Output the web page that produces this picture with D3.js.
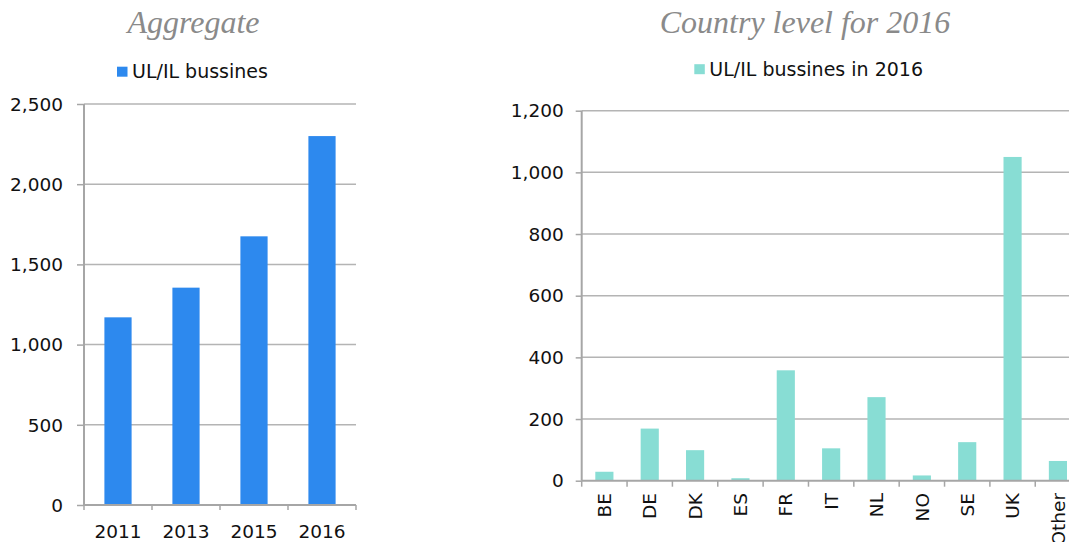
<!DOCTYPE html>
<html>
<head>
<meta charset="utf-8">
<script src="https://cdn.jsdelivr.net/npm/d3@7"></script>
<style>
  html, body { margin: 0; padding: 0; background: #fff; }
  svg { display: block; }
</style>
</head>
<body>
<svg id="chart" width="1069" height="542"></svg>
<script>
// ---- Data ----
const aggYears = ["2011", "2013", "2015", "2016"];
const aggValues = [1170, 1355, 1675, 2300];
const aggTicks = [0, 500, 1000, 1500, 2000, 2500];
const aggTitle = "Aggregate";
const aggLegend = "UL/IL bussines";

const countries = ["BE", "DE", "DK", "ES", "FR", "IT", "NL", "NO", "SE", "UK", "Other"];
const countryValues = [29, 169, 99, 8, 358, 105, 271, 17, 125, 1050, 64];
const countryTicks = [0, 200, 400, 600, 800, 1000, 1200];
const countryTitle = "Country level for 2016";
const countryLegend = "UL/IL bussines in 2016";

// ---- Styles ----
const FONT = "'DejaVu Sans', Verdana, sans-serif";
const TITLE_FONT = "'Liberation Serif', 'Times New Roman', serif";
const gridColor = "#b4b4b4";
const axisColor = "#a6a6a6";
const fmt = d3.format(",");

const svg = d3.select("#chart");

function drawPanel(opts) {
  const g = svg.append("g");
  const x = d3.scaleBand().domain(opts.cats).range(opts.xRange)
    .paddingInner(0.6).paddingOuter(0.3);
  const y = d3.scaleLinear().domain(opts.yDomain).range(opts.yRange);
  const [x0, x1] = opts.gridRange;

  // gridlines
  g.append("g").selectAll("line").data(opts.ticks.filter(t => t !== 0)).join("line")
    .attr("x1", x0).attr("x2", x1)
    .attr("y1", d => y(d)).attr("y2", d => y(d))
    .attr("stroke", gridColor).attr("stroke-width", 1.5);

  // bars
  g.append("g").selectAll("rect").data(opts.cats).join("rect")
    .attr("x", d => x(d))
    .attr("width", x.bandwidth())
    .attr("y", (d, i) => y(opts.values[i]))
    .attr("height", (d, i) => y(0) - y(opts.values[i]))
    .attr("fill", opts.color);

  // y axis
  const yAxis = d3.axisLeft(y).tickValues(opts.ticks).tickFormat(fmt)
    .tickSize(opts.yTickLen).tickPadding(opts.yLabelGap);
  const ya = g.append("g").attr("transform", `translate(${x0},0)`).call(yAxis);
  ya.select(".domain").remove();
  ya.selectAll(".tick line").attr("stroke", axisColor).attr("stroke-width", 1.5);
  ya.selectAll(".tick text").attr("font-family", FONT).attr("font-size", 18.5)
    .attr("fill", "#111").attr("dy", "0.34em");
  g.append("line").attr("x1", x0).attr("x2", x0)
    .attr("y1", y(opts.yDomain[1])).attr("y2", y(0))
    .attr("stroke", axisColor).attr("stroke-width", 2);

  // x axis line
  g.append("line").attr("x1", x0).attr("x2", x1)
    .attr("y1", y(0)).attr("y2", y(0))
    .attr("stroke", axisColor).attr("stroke-width", 2);

  // category boundary ticks
  const off = (x.step() - x.bandwidth()) / 2;
  const bounds = opts.cats.map(c => x(c) - off);
  bounds.push(x(opts.cats[opts.cats.length - 1]) + x.bandwidth() + off);
  g.append("g").selectAll("line").data(bounds).join("line")
    .attr("x1", d => d).attr("x2", d => d)
    .attr("y1", y(0)).attr("y2", y(0) + opts.xTickLen)
    .attr("stroke", axisColor).attr("stroke-width", 1.5);

  // x labels
  const lab = g.append("g").selectAll("text").data(opts.cats).join("text")
    .attr("font-family", FONT).attr("font-size", 18.5).attr("fill", "#111")
    .text(d => d);
  if (opts.rotate) {
    lab.attr("transform", d => `translate(${x(d) + x.bandwidth() / 2},${opts.labelY}) rotate(-90)`)
      .attr("text-anchor", "end").attr("dy", "0.36em");
  } else {
    lab.attr("x", d => x(d) + x.bandwidth() / 2).attr("y", opts.labelY)
      .attr("text-anchor", "middle");
  }

  // title
  svg.append("text").attr("x", opts.titleX).attr("y", 33)
    .attr("text-anchor", "middle")
    .attr("font-family", TITLE_FONT).attr("font-style", "italic")
    .attr("font-size", 32).attr("fill", "#8a8a8a")
    .text(opts.title);

  // legend
  const lg = svg.append("g").attr("transform", `translate(${opts.legendX},${opts.legendY})`);
  lg.append("rect").attr("x", 0).attr("y", -5).attr("width", 10.5).attr("height", 10)
    .attr("fill", opts.color);
  lg.append("text").attr("x", 15).attr("y", 0).attr("dy", "0.35em")
    .attr("font-family", FONT).attr("font-size", 19).attr("fill", "#111")
    .text(opts.legend);
}

drawPanel({
  cats: aggYears, values: aggValues, ticks: aggTicks,
  xRange: [84, 356], yDomain: [0, 2500], yRange: [505, 104],
  gridRange: [84, 356], color: "#2d89ee",
  yTickLen: 7, yLabelGap: 14, xTickLen: 5,
  rotate: false, labelY: 538,
  title: aggTitle, titleX: 193.5,
  legend: aggLegend, legendX: 117, legendY: 71.7
});

drawPanel({
  cats: countries, values: countryValues, ticks: countryTicks,
  xRange: [581.7, 1080.6], yDomain: [0, 1200], yRange: [480.7, 110.7],
  gridRange: [581.7, 1080.6], color: "#88ddd4",
  yTickLen: 6, yLabelGap: 12, xTickLen: 6,
  rotate: true, labelY: 493,
  title: countryTitle, titleX: 805,
  legend: countryLegend, legendX: 694.3, legendY: 69.2
});
</script>
</body>
</html>
